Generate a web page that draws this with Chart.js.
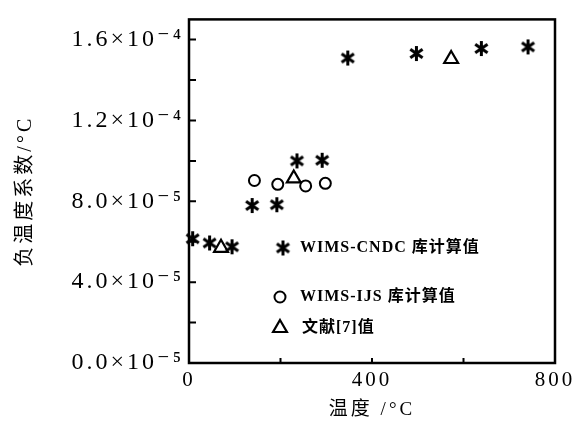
<!DOCTYPE html>
<html lang="zh-CN">
<head>
<meta charset="UTF-8">
<title>负温度系数</title>
<style>
  html, body { margin: 0; background: #fff; }
  .wrap { width: 585px; height: 421px; position: relative; }
</style>
</head>
<body>
<div class="wrap"><canvas id="chart"></canvas></div>
<script src="https://cdn.jsdelivr.net/npm/chart.js@4"></script>
<script>
// WIMS-CNDC library results
const cndcX = [8, 45, 94, 138, 192, 236, 291, 347, 497, 639, 741];
const cndcY = [6.15e-5, 5.94e-5, 5.75e-5, 7.79e-5, 7.83e-5, 1.0e-4, 1.003e-4, 1.509e-4, 1.531e-4, 1.556e-4, 1.564e-4];
// WIMS-IJS library results
const ijsX = [143, 194, 255, 298];
const ijsY = [9.03e-5, 8.84e-5, 8.76e-5, 8.89e-5];
// literature [7]
const litX = [70, 229, 573];
const litY = [5.7e-5, 9.13e-5, 1.504e-4];

const seriesNames = ['WIMS-CNDC 库计算值', 'WIMS-IJS 库计算值', '文献[7]值'];
const yTickValues = [0, 4e-5, 8e-5, 1.2e-4, 1.6e-4];
const yTickLabels = ['0.0×10⁻⁵', '4.0×10⁻⁵', '8.0×10⁻⁵', '1.2×10⁻⁴', '1.6×10⁻⁴'];
const yMinorStep = 2e-5;
const xTickValues = [0, 400, 800];
const xTickLabels = ['0', '400', '800'];

const serif = "'Liberation Serif', 'DejaVu Serif', 'Noto Sans CJK SC', serif";

function toPoints(xs, ys) {
  return xs.map((x, i) => ({ x, y: ys[i] }));
}

// six-armed asterisk marker
function makeStar(size, lw) {
  const c = document.createElement('canvas');
  c.width = c.height = size;
  const g = c.getContext('2d');
  const m = size / 2, r = size / 2 - 1;
  g.strokeStyle = '#000';
  g.lineWidth = lw;
  g.beginPath();
  [0, 55, -55].forEach(deg => {
    const a = deg * Math.PI / 180;
    const dx = Math.sin(a) * r, dy = Math.cos(a) * r;
    g.moveTo(m - dx, m - dy);
    g.lineTo(m + dx, m + dy);
  });
  g.stroke();
  return c;
}
const star = makeStar(17, 3);

const markers = [
  { pointStyle: star, radius: 8, borderWidth: 0 },
  { pointStyle: 'circle', radius: 5.5, borderWidth: 2 },
  { pointStyle: 'triangle', radius: 8, borderWidth: 2.2 }
];

const frameAndLegend = {
  id: 'frameAndLegend',
  beforeDraw(chart) {
    chart.ctx.letterSpacing = '3px';
  },
  afterDraw(chart) {
    const { ctx, chartArea: a, scales: { x, y } } = chart;
    ctx.save();
    ctx.strokeStyle = '#000';
    ctx.lineWidth = 2.5;
    ctx.strokeRect(a.left, a.top, a.right - a.left, a.bottom - a.top);
    ctx.lineWidth = 2;
    ctx.beginPath();
    y.ticks.forEach(t => {
      const py = y.getPixelForValue(t.value);
      ctx.moveTo(a.left, py);
      ctx.lineTo(a.left + 7, py);
    });
    x.ticks.forEach(t => {
      const px = x.getPixelForValue(t.value);
      ctx.moveTo(px, a.bottom);
      ctx.lineTo(px, a.bottom - 5);
    });
    ctx.stroke();

    // legend inside the plot
    const rows = [
      { mx: 283, my: 248, tx: 300 },
      { mx: 280, my: 297, tx: 300 },
      { mx: 280, my: 328, tx: 302 }
    ];
    ctx.strokeStyle = '#000';
    ctx.letterSpacing = '1px';
    ctx.font = 'bold 16px ' + serif;
    ctx.textBaseline = 'middle';
    rows.forEach((r, i) => {
      const m = markers[i];
      ctx.lineWidth = m.borderWidth;
      ctx.fillStyle = '#fff';
      Chart.helpers.drawPoint(ctx, { pointStyle: m.pointStyle, radius: m.radius, rotation: 0, borderWidth: m.borderWidth }, r.mx, r.my);
      ctx.fillStyle = '#000';
      ctx.fillText(seriesNames[i], r.tx, r.my);
    });
    ctx.restore();
  }
};

new Chart(document.getElementById('chart'), {
  type: 'scatter',
  data: {
    datasets: [
      { label: seriesNames[0], data: toPoints(cndcX, cndcY), pointStyle: star, pointRadius: 8, borderWidth: 0, clip: false },
      { label: seriesNames[1], data: toPoints(ijsX, ijsY), pointStyle: 'circle', pointRadius: 5.5, borderWidth: 2, borderColor: '#000', backgroundColor: '#fff', clip: false },
      { label: seriesNames[2], data: toPoints(litX, litY), pointStyle: 'triangle', pointRadius: 8, borderWidth: 2.2, borderColor: '#000', backgroundColor: '#fff', clip: false }
    ]
  },
  options: {
    responsive: true,
    maintainAspectRatio: false,
    animation: false,
    layout: { padding: { top: 10, right: 30, left: 0, bottom: 0 } },
    plugins: { legend: { display: false }, tooltip: { enabled: false } },
    scales: {
      x: {
        type: 'linear',
        min: 0,
        max: 800,
        afterFit: s => { s.height = 58; },
        grid: { display: false, drawTicks: false },
        border: { display: false },
        ticks: {
          stepSize: 200,
          autoSkip: false,
          maxRotation: 0,
          padding: 5,
          color: '#000',
          font: { family: serif, size: 21 },
          callback: v => { const i = xTickValues.indexOf(v); return i >= 0 ? xTickLabels[i] : ''; }
        },
        title: {
          display: true,
          text: '温度 /°C',
          color: '#000',
          font: { family: serif, size: 19 },
          padding: { top: 0, bottom: 0 }
        }
      },
      y: {
        min: 0,
        max: 1.7e-4,
        afterFit: s => { s.width = 189; },
        afterBuildTicks: s => {
          s.ticks = [];
          for (let k = 0; k * yMinorStep <= 1.6e-4 + 1e-12; k++) s.ticks.push({ value: k * yMinorStep });
        },
        grid: { display: false, drawTicks: false },
        border: { display: false },
        ticks: {
          autoSkip: false,
          padding: 5,
          color: '#000',
          font: { family: serif, size: 24 },
          callback: v => { const i = yTickValues.findIndex(t => Math.abs(t - v) < 1e-9); return i >= 0 ? yTickLabels[i] : ''; }
        },
        title: {
          display: true,
          text: '负温度系数/°C',
          color: '#000',
          font: { family: serif, size: 20 },
          padding: { top: 14, bottom: 0 }
        }
      }
    }
  },
  plugins: [frameAndLegend]
});
</script>
</body>
</html>
